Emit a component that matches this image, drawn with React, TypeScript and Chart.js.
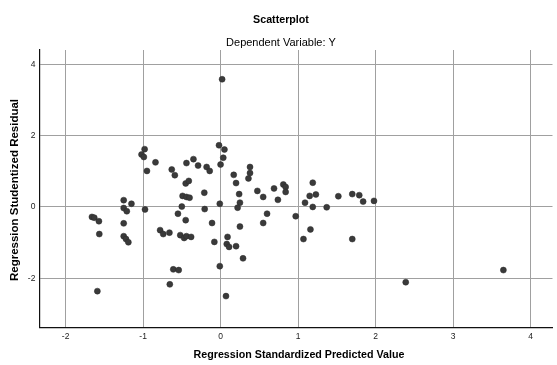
import React, { useEffect, useRef } from "react";
import { Chart, registerables } from "chart.js";

Chart.register(...registerables);

const chartTitle = "Scatterplot";
const chartSubtitle = "Dependent Variable: Y";
const xAxisTitle = "Regression Standardized Predicted Value";
const yAxisTitle = "Regression Studentized Residual";

const xTicks = [-2, -1, 0, 1, 2, 3, 4];
const yTicks = [-2, 0, 2, 4];

const predicted = [
  -0.98, -1.02, -0.99, -0.95, -0.84, -0.63, -0.59, -0.44, -0.35, -0.29,
  -0.18, -0.14, -0.02, 0.05, 0.035, 0.0, 0.02, -0.45, -0.41, -0.21,
  -0.49, -0.44, -0.4, -0.01, -1.15, -1.25, -1.25, -1.21, -0.975, -0.5,
  -0.205, -0.55, -0.45, -0.11, -0.78, -0.74, -0.66, -0.52, -0.47, -0.44,
  -0.38, -0.08, -1.66, -1.63, -1.57, -1.25, -1.565, -1.25, -1.22, -1.19,
  -1.59, -0.61, -0.54, -0.655, -0.01, 0.07, 0.29, 0.09, 0.08, 0.11,
  0.2, 0.25, 0.55, 0.6, 0.97, 0.38, 0.38, 0.36, 0.17, 0.2,
  0.24, 0.25, 0.22, 0.475, 0.55, 0.69, 0.74, 0.81, 0.84, 0.84,
  1.19, 1.15, 1.23, 1.09, 1.19, 1.37, 1.52, 1.7, 1.79, 1.84,
  1.98, 1.16, 1.07, 1.7, 2.39, 3.65,
];

const residual = [
  1.62, 1.47, 1.4, 1.01, 1.25, 1.05, 0.89, 1.23, 1.34, 1.16,
  1.12, 1.01, 1.73, 1.61, 1.38, 1.19, 3.58, 0.66, 0.73, 0.4,
  0.31, 0.28, 0.26, 0.09, 0.09, 0.19, -0.03, -0.12, -0.07, 0.01,
  -0.06, -0.19, -0.37, -0.45, -0.65, -0.76, -0.72, -0.79, -0.87, -0.82,
  -0.84, -0.98, -0.28, -0.3, -0.4, -0.46, -0.76, -0.82, -0.9, -0.99,
  -2.36, -1.75, -1.77, -2.17, -1.66, -2.5, -1.44, -0.84, -1.04, -1.12,
  -1.1, -0.55, -0.45, -0.19, -0.26, 1.12, 0.95, 0.8, 0.9, 0.67,
  0.36, 0.12, -0.02, 0.45, 0.28, 0.52, 0.2, 0.63, 0.56, 0.42,
  0.68, 0.31, 0.35, 0.12, 0.0, -0.01, 0.3, 0.36, 0.33, 0.15,
  0.17, -0.63, -0.9, -0.9, -2.11, -1.77,
];

const FONT = "'Liberation Sans', Arial, sans-serif";

const textPlugin = {
  id: "spssText",
  afterDraw(chart: any) {
    const ctx = chart.ctx;
    ctx.save();
    ctx.fillStyle = "#000";
    ctx.textAlign = "center";
    ctx.textBaseline = "middle";
    ctx.font = `bold 10.7px ${FONT}`;
    ctx.fillText(chartTitle, 281, 20);
    ctx.font = `11px ${FONT}`;
    ctx.fillText(chartSubtitle, 281, 43);
    ctx.font = `bold 10.7px ${FONT}`;
    ctx.fillText(xAxisTitle, 299, 355);
    ctx.translate(15, 190);
    ctx.rotate(-Math.PI / 2);
    ctx.font = `bold 11.5px ${FONT}`;
    ctx.fillText(yAxisTitle, 0, 0);
    ctx.restore();
  },
};

export default function App() {
  const canvasRef = useRef<HTMLCanvasElement | null>(null);

  useEffect(() => {
    const canvas = canvasRef.current;
    if (!canvas) return;
    const points = predicted.map((x, i) => ({ x, y: residual[i] }));
    const chart = new Chart(canvas, {
      type: "scatter",
      data: {
        datasets: [
          {
            data: points,
            backgroundColor: "#3a3a3a",
            borderColor: "#2a2a2a",
            borderWidth: 0.5,
            pointRadius: 3,
          },
        ],
      },
      options: {
        animation: false,
        responsive: false,
        devicePixelRatio: 1,
        layout: { padding: { top: 50, right: 2, left: 0, bottom: 0 } },
        plugins: {
          legend: { display: false },
          title: { display: false },
          tooltip: { enabled: false },
        },
        scales: {
          x: {
            type: "linear",
            min: -2.338,
            max: 4.284,
            afterBuildTicks: (scale: any) => {
              scale.ticks = xTicks.map((v) => ({ value: v }));
            },
            afterFit: (scale: any) => {
              scale.height = 37.7;
            },
            ticks: {
              includeBounds: false,
              padding: 4,
              color: "#222",
              font: { family: FONT, size: 8.5 },
              maxRotation: 0,
              autoSkip: false,
            },
            grid: { color: "#a0a0a0", lineWidth: 1, drawTicks: false },
            border: { display: true, color: "#111", width: 1.2 },
          },
          y: {
            type: "linear",
            min: -3.374,
            max: 4.4,
            afterBuildTicks: (scale: any) => {
              scale.ticks = yTicks.map((v) => ({ value: v }));
            },
            afterFit: (scale: any) => {
              scale.width = 39.4;
            },
            ticks: {
              includeBounds: false,
              padding: 4,
              color: "#222",
              font: { family: FONT, size: 8.5 },
              autoSkip: false,
            },
            grid: { color: "#a0a0a0", lineWidth: 1, drawTicks: false },
            border: { display: true, color: "#111", width: 1.2 },
          },
        },
      },
      plugins: [textPlugin],
    });
    return () => chart.destroy();
  }, []);

  return (
    <div style={{ position: "fixed", left: 0, top: 0, width: 557, height: 365, background: "#fff" }}>
      <canvas ref={canvasRef} width={557} height={365} style={{ display: "block" }} />
    </div>
  );
}
